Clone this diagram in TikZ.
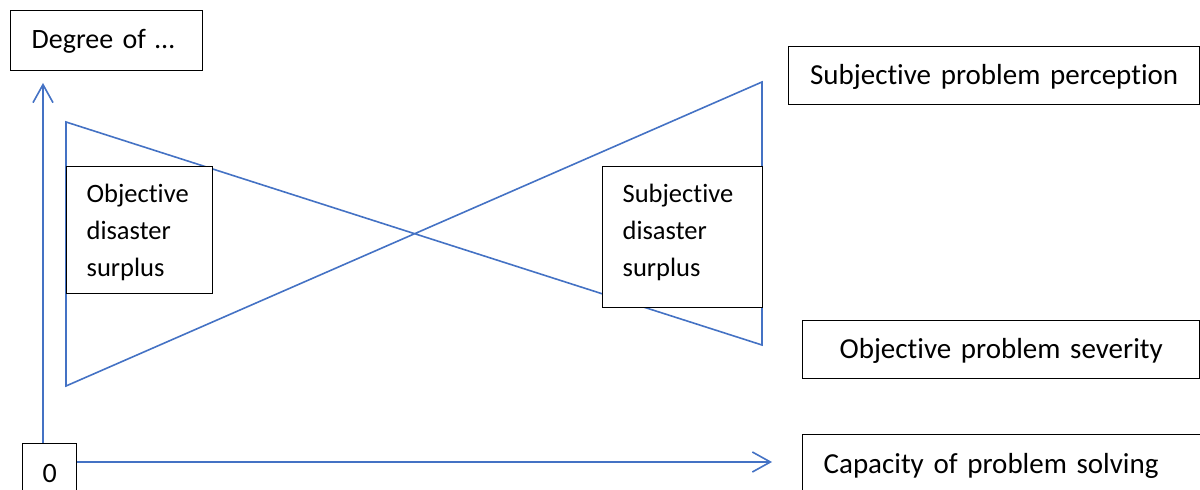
\documentclass[tikz,border=0pt]{standalone}
\usepackage{fontspec}
\setmainfont{Carlito}[RawFeature={-liga;-clig;-calt}]
\usetikzlibrary{arrows.meta}
\definecolor{axblue}{HTML}{4472C4}
\begin{document}
\begin{tikzpicture}[x=1pt,y=1pt,
  box/.style={draw=black, line width=1.3pt, fill=white, inner ysep=0pt, anchor=north west, font=\fontsize{28}{37}\selectfont},
  bigtext/.style={font=\fontsize{29}{37}\selectfont},
  smalltext/.style={font=\fontsize{26.5}{37}\selectfont},
  blueline/.style={draw=axblue, line width=1.6pt},
  axis/.style={blueline, -{Straight Barb[length=18pt,width=20pt]}}]
\useasboundingbox (0,0) rectangle (1200,490);
% bow-tie of the two curves
\coordinate (A) at (66,368);
\coordinate (B) at (66,104);
\coordinate (C) at (762,408);
\coordinate (D) at (762,145);
\draw[blueline] (A) -- (D) -- (C) -- (B) -- cycle;
% boxes
\node[box, inner xsep=21pt, text width=150pt, text height=38pt, text depth=22pt, align=left] (degree) at (10,480) {Degree of …};
\node[box, inner xsep=0pt, text width=54pt, text height=39pt, text depth=18pt, align=center] (zero) at (22,47) {0};
\node[box, bigtext, inner xsep=21pt, text width=380pt, text height=39pt, text depth=27pt, align=left] (cap) at (802,56) {Capacity of problem solving};
\node[box, bigtext, inner xsep=5pt, text width=401pt, text height=38pt, text depth=20pt, align=center] (spp) at (788,444) {Subjective problem perception};
\node[box, bigtext, inner xsep=5pt, text width=387pt, text height=38pt, text depth=20pt, align=center] (ops) at (802,170) {Objective problem severity};
\node[box, smalltext, inner xsep=20pt, text width=106pt, text height=36pt, text depth=91pt, align=left] (ods) at (66,324) {Objective\\disaster\\surplus};
\node[box, smalltext, inner xsep=20pt, text width=120pt, text height=36pt, text depth=105pt, align=left] (sds) at (602,324) {Subjective\\disaster\\surplus};
% axes
\coordinate (ytip) at (43,407);
\coordinate (xtip) at (772,28);
\draw[axis] (zero.north -| ytip) -- (ytip);
\draw[axis] (zero.east |- xtip) -- (xtip);
\end{tikzpicture}
\end{document}
